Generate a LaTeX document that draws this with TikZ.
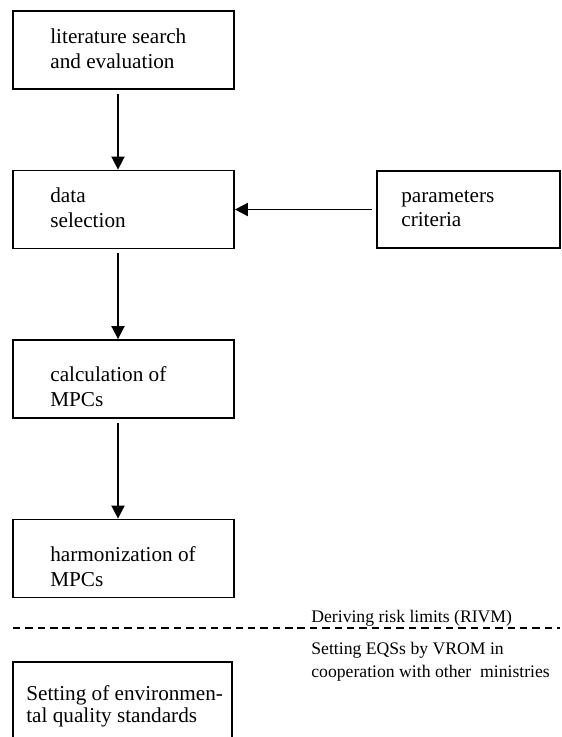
\documentclass[tikz,border=0pt]{standalone}
\usepackage{fontspec}
\setmainfont{Liberation Serif}
\usetikzlibrary{arrows.meta}

\begin{document}
\begin{tikzpicture}[x=0.566pt, y=-0.566pt,
  box/.style={draw, line width=0.95pt, minimum width=125.1pt, minimum height=44.2pt, inner sep=0pt},
  boxtext/.style={anchor=base west, inner sep=0pt, align=left, font=\fontsize{12}{13.9}\selectfont},
  note/.style={anchor=base west, inner sep=0pt, align=left, font=\fontsize{10}{12.5}\selectfont},
  flow/.style={line width=0.95pt, -{Triangle[length=7.4pt, width=7.4pt]}, shorten <=2.3pt},
]

\useasboundingbox (0,0) rectangle (562,737);
\clip (0,0) rectangle (562,737);

\coordinate (axis) at (118,0);

\node[box] (search) at (123.5,50) {};
\node[box] (selection) at (123.5,209.5) {};
\node[box, minimum width=103.6pt, minimum height=43.6pt] (params) at (468.5,209.5) {};
\node[box] (calc) at (123.5,379) {};
\node[box] (harm) at (123.5,558.5) {};
\node[box, minimum width=124pt, minimum height=56.6pt] (eqs) at (122.5,712) {};

% base = last line of each text
\node[boxtext] (searchtext) at (50,68) {literature search\\and evaluation};
\node[boxtext] (selectiontext) at (50,227) {data\\selection};
\node[boxtext, font=\fontsize{12}{13.1}\selectfont] (paramstext) at (401,226) {parameters\\criteria};
\node[boxtext] (calctext) at (50,406) {calculation of\\MPCs};
\node[boxtext] (harmtext) at (50,586) {harmonization of\\MPCs};
\node[boxtext, font=\fontsize{12}{10.8}\selectfont] (eqstext) at (26,722) {Setting of environmen-\\tal quality standards};

\draw[flow] (search.south -| axis) -- (selection.north -| axis);
\draw[flow] (params.west) -- (selection.east);
\draw[flow] (selection.south -| axis) -- (calc.north -| axis);
\draw[flow] (calc.south -| axis) -- (harm.north -| axis);

% border between RIVM and VROM
\draw[line width=0.8pt, dash pattern=on 4.2pt off 2.8pt] (13,628) -- (560,628);
\node[note] (rivm) at (311,622) {Deriving risk limits (RIVM)};
\node[note] (vrom) at (311,677) {Setting EQSs by VROM in\\cooperation with other\ \ ministries};

\end{tikzpicture}
\end{document}
